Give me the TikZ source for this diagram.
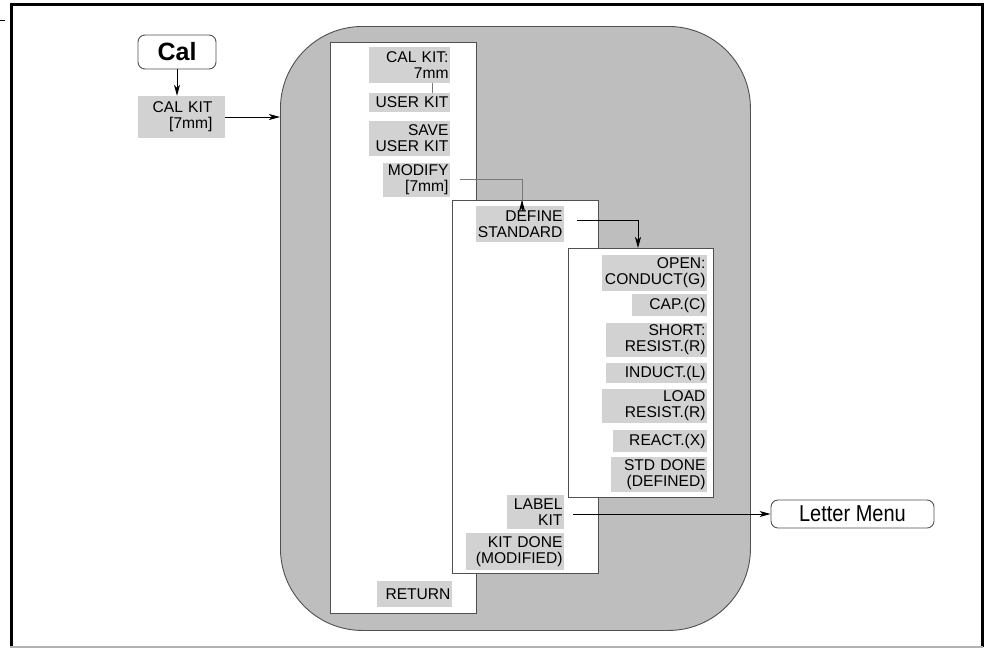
\documentclass[tikz,border=0pt]{standalone}
\usepackage{fontspec}
\setmainfont{Liberation Sans}
\usetikzlibrary{arrows.meta}
\definecolor{blobgray}{RGB}{190,190,190}
\definecolor{boxgray}{RGB}{210,210,210}
\definecolor{edgegray}{RGB}{80,80,80}
\definecolor{linegray}{RGB}{120,120,120}
\tikzset{
  menufont/.style={font=\fontsize{15.6}{16}\selectfont},
  sbox/.style={menufont, fill=boxgray, inner xsep=1.5pt, inner ysep=0pt, align=right},
  panel/.style={draw=edgegray, line width=1.1pt, fill=white, anchor=north west, inner sep=0pt},
  conn/.style={line width=0.9pt, -{Stealth[length=11pt,width=6pt,inset=3pt]}},
  roundbox/.style={draw=edgegray, line width=0.9pt, rounded corners=7pt, inner sep=0pt}
}
\begin{document}
\begin{tikzpicture}[x=1pt,y=-1pt]
\useasboundingbox (0,0) rectangle (985,649);
% frame
\draw[line width=3pt] (11.5,647) -- (11.5,4.5) -- (982,4.5) -- (982,647);
\draw[line width=2pt, color=gray!60] (10,647) -- (983,647);
\draw[line width=1pt] (0,20) -- (5,20);
% blob
\node[draw=edgegray, line width=0.9pt, fill=blobgray, rounded corners=82pt, minimum width=470pt, minimum height=604pt, anchor=north west, inner sep=0pt] (blob) at (280,26) {};
% panels
\node[panel, minimum width=146pt, minimum height=571pt] (p1) at (330,42) {};
\node[panel, minimum width=146pt, minimum height=373pt] (p2) at (452,200) {};
\node[panel, minimum width=145pt, minimum height=249pt] (p3) at (568,248) {};
% top-left
\node[roundbox, minimum width=78pt, minimum height=34pt, font=\fontsize{25}{26}\selectfont\bfseries] (cal) at (177,52) {Cal};
\node[menufont, fill=boxgray, inner sep=0pt, minimum width=87pt, minimum height=42pt, text width=62pt, align=right] (calkit) at (181.5,117) {CAL KIT\\ {[7mm]}};
% panel 1 items
\node[sbox, minimum width=81pt, minimum height=36pt, text width=78pt] (ck1) at (409.5,65) {CAL KIT:\\ 7mm};
\node[sbox, minimum width=81pt, minimum height=19pt, text width=78pt] (uk) at (409.5,102.5) {USER KIT};
\node[sbox, minimum width=81pt, minimum height=35pt, text width=78pt] (suk) at (409.5,138.5) {SAVE\\ USER KIT};
\node[sbox, minimum width=67pt, minimum height=34pt, text width=64pt] (mod) at (416.5,180) {MODIFY\\ {[7mm]}};
\node[sbox, minimum width=75pt, minimum height=26pt, text width=72pt] (ret) at (414.5,594) {RETURN};
% panel 2 items
\node[sbox, minimum width=88pt, minimum height=36pt, text width=85pt] (def) at (520,224) {DEFINE\\ STANDARD};
\node[sbox, minimum width=57pt, minimum height=34pt, text width=54pt] (lab) at (535.5,512) {LABEL\\ KIT};
\node[sbox, minimum width=98pt, minimum height=37pt, text width=95pt] (kd) at (515,551.5) {KIT DONE\\ (MODIFIED)};
% panel 3 items
\node[sbox, minimum width=105pt, minimum height=36pt, text width=102pt] (open) at (654.5,273) {OPEN:\\ CONDUCT(G)};
\node[sbox, minimum width=75pt, minimum height=22pt, text width=72pt] (cap) at (669.5,305) {CAP.(C)};
\node[sbox, minimum width=101pt, minimum height=34pt, text width=98pt] (short) at (656.5,340) {SHORT:\\ RESIST.(R)};
\node[sbox, minimum width=101pt, minimum height=20pt, text width=98pt] (ind) at (656.5,373) {INDUCT.(L)};
\node[sbox, minimum width=105pt, minimum height=34pt, text width=102pt] (load) at (654.5,406) {LOAD\\ RESIST.(R)};
\node[sbox, minimum width=94pt, minimum height=22pt, text width=91pt] (react) at (660,441) {REACT.(X)};
\node[sbox, minimum width=96pt, minimum height=35pt, text width=93pt] (std) at (659,474.5) {STD DONE\\ (DEFINED)};
% letter menu
\node[roundbox, minimum width=163pt, minimum height=28pt] (letter) at (852.5,514) {\fontsize{23}{24}\selectfont\scalebox{0.87}[1]{Letter Menu}};
% connectors
\coordinate (p2in) at ([xshift=70pt]p2.north west);
\coordinate (p3in) at ([xshift=70pt]p3.north west);
\draw[conn] (cal.south) -- (cal.south |- calkit.north);
\draw[conn] (calkit.east) -- (calkit.east -| blob.west);
\draw[line width=0.9pt, color=linegray] ([xshift=22.5pt]ck1.south) -- ([xshift=22.5pt]uk.north);
\draw[line width=0.9pt, color=linegray] ([xshift=10pt,yshift=1pt]mod.east) -| ([yshift=-10pt]p2in);
\draw[conn] ([yshift=-11pt]p2in) -- (p2in);
\draw[conn] ([xshift=13pt,yshift=4pt]def.east) -| (p3in);
\draw[conn] ([xshift=9pt]lab.east |- letter.west) -- (letter.west);
\end{tikzpicture}
\end{document}
